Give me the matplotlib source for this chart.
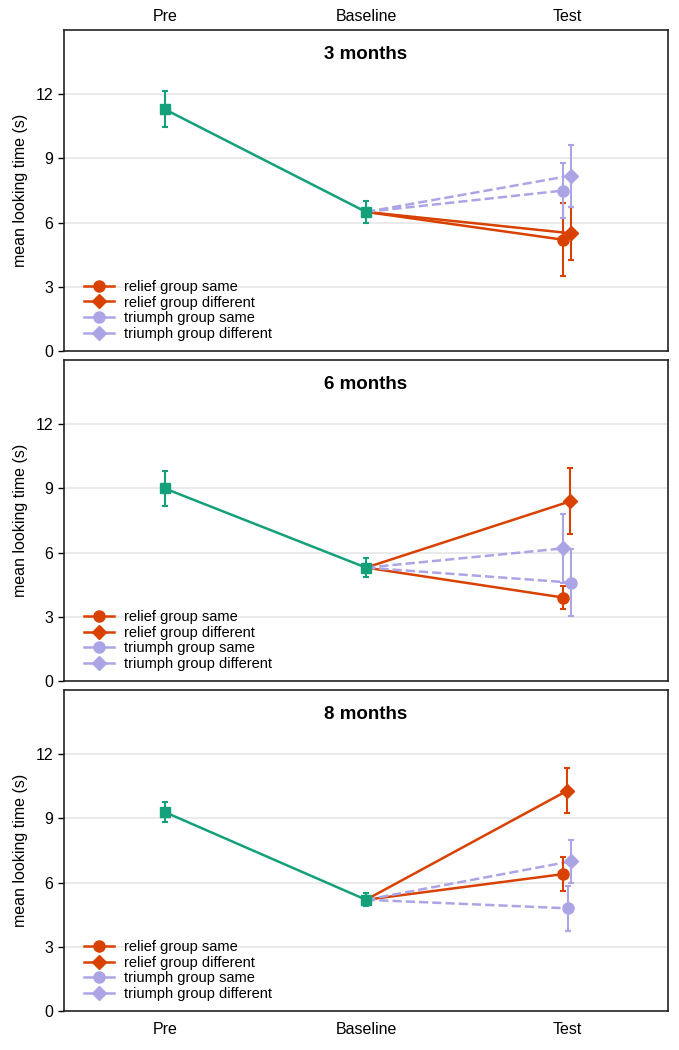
import matplotlib
matplotlib.use("Agg")
import matplotlib.pyplot as plt
import numpy as np

plt.rcParams['font.family'] = ['Liberation Sans', 'DejaVu Sans']

phases = ["Pre", "Baseline", "Test"]
panels = ["3 months", "6 months", "8 months"]

# Pre and Baseline (all infants)
pre_mean = [11.3, 9.0, 9.3]
pre_err = [0.85, 0.8, 0.45]
base_mean = [6.5, 5.3, 5.2]
base_err = [0.5, 0.45, 0.3]

# Test phase per group
series = ["relief group same", "relief group different",
          "triumph group same", "triumph group different"]
test_mean = {
    "relief group same":       [5.2, 3.9, 6.4],
    "relief group different":  [5.5, 8.4, 10.3],
    "triumph group same":      [7.5, 4.6, 4.8],
    "triumph group different": [8.2, 6.2, 7.0],
}
test_err = {
    "relief group same":       [1.7, 0.55, 0.8],
    "relief group different":  [1.25, 1.55, 1.05],
    "triumph group same":      [1.3, 1.55, 1.05],
    "triumph group different": [1.45, 1.6, 1.0],
}
# horizontal jitter of test points (in category units)
test_offset = {
    "relief group same":       [-0.02, -0.02, -0.02],
    "relief group different":  [0.02, 0.015, 0.0],
    "triumph group same":      [-0.02, 0.02, 0.005],
    "triumph group different": [0.02, -0.02, 0.02],
}

GREEN = "#13a07a"
RED = "#d94100"
PURPLE = "#aba5e6"
style = {
    "relief group same":       dict(color=RED, marker="o", ls="-"),
    "relief group different":  dict(color=RED, marker="D", ls="-"),
    "triumph group same":      dict(color=PURPLE, marker="o", ls="--"),
    "triumph group different": dict(color=PURPLE, marker="D", ls="--"),
}

fig = plt.figure(figsize=(6.79, 10.5), dpi=100)
boxes = [(0.0943, 0.6657, 0.8895, 0.3057),
         (0.0943, 0.3514, 0.8895, 0.3057),
         (0.0943, 0.0371, 0.8895, 0.3057)]

for i, title in enumerate(panels):
    ax = fig.add_axes(boxes[i])
    ax.set_xlim(-0.5, 2.5)
    ax.set_ylim(0, 15)
    ax.set_yticks([0, 3, 6, 9, 12])
    for y in [3, 6, 9, 12]:
        ax.axhline(y, color="#e6e6e6", lw=1.2, zorder=0)
    for sp in ax.spines.values():
        sp.set_linewidth(1.2)
        sp.set_color("#222222")
    ax.tick_params(axis="y", labelsize=11.5, length=4, width=1, direction="out")
    ax.set_xticks([0, 1, 2])
    if i == 0:
        ax.xaxis.tick_top()
        ax.set_xticklabels(phases, fontsize=11.5)
        ax.tick_params(axis="x", length=0, pad=4)
    elif i == 2:
        ax.set_xticklabels(phases, fontsize=11.5)
        ax.tick_params(axis="x", length=0, pad=8)
    else:
        ax.set_xticklabels([])
        ax.tick_params(axis="x", length=0)
    ax.set_ylabel("mean looking time (s)", fontsize=11.5, labelpad=6)
    ax.text(0.5, 0.925, title, transform=ax.transAxes, ha="center", va="center",
            fontsize=13.5, fontweight="bold")

    # green pre -> baseline
    ax.errorbar([0, 1], [pre_mean[i], base_mean[i]], yerr=[pre_err[i], base_err[i]],
                color=GREEN, marker="s", ms=7, lw=1.8, capsize=2.5, elinewidth=1.5,
                capthick=1.5, zorder=5)

    handles = []
    for s in series:
        st = style[s]
        xt = 2 + test_offset[s][i]
        ax.plot([1, xt], [base_mean[i], test_mean[s][i]], color=st["color"],
                ls=st["ls"], lw=1.8, zorder=3)
        ax.errorbar([xt], [test_mean[s][i]], yerr=[test_err[s][i]], color=st["color"],
                    marker=st["marker"], ms=8 if st["marker"] == "o" else 7.5,
                    capsize=2.5, elinewidth=1.5, capthick=1.5, ls="none", zorder=4)
        h, = ax.plot([], [], color=st["color"], marker=st["marker"], ls="-", lw=1.8,
                     ms=8 if st["marker"] == "o" else 7)
        handles.append(h)
    ax.legend(handles, series, loc="lower left", frameon=False, fontsize=10.5,
              handlelength=2.0, handletextpad=0.7, labelspacing=0.12,
              borderaxespad=0.5, bbox_to_anchor=(0.012, -0.01))

fig.savefig("out.png", dpi=100)
